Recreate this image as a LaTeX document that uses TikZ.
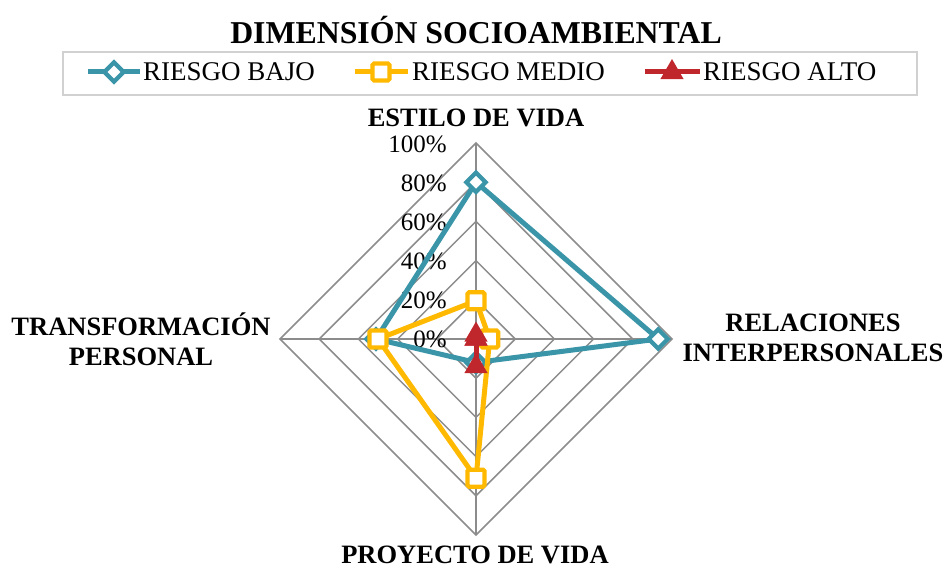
\documentclass[tikz,border=0pt]{standalone}
\usepackage{fontspec}
\setmainfont{Liberation Serif}
\usetikzlibrary{shapes.geometric,calc}
\definecolor{cteal}{HTML}{3A95A8}
\definecolor{cgold}{HTML}{FFB900}
\definecolor{cred}{HTML}{C0272D}
\definecolor{cgrid}{HTML}{8C8C8C}
\tikzset{
  gridline/.style={draw=cgrid, line width=1.5pt},
  tealline/.style={draw=cteal, line width=5pt, line join=round},
  goldline/.style={draw=cgold, line width=5pt, line join=round},
  redline/.style={draw=cred, line width=5pt, line join=round},
  tealmark/.style={diamond, draw=cteal, fill=white, line width=4.2pt, minimum size=21pt, inner sep=0pt},
  goldmark/.style={rectangle, draw=cgold, fill=white, line width=4.2pt, minimum size=17pt, inner sep=0pt, rounded corners=1.5pt},
  redmark/.style={regular polygon, regular polygon sides=3, fill=cred, minimum size=27pt, inner sep=0pt},
  axlabel/.style={font=\fontsize{25}{25}\selectfont, anchor=east, inner sep=0pt},
  catlabel/.style={font=\fontsize{26.5}{30}\selectfont\bfseries, align=center, inner sep=0pt},
  legtext/.style={font=\fontsize{27}{27}\selectfont, anchor=west, inner sep=0pt},
}
\begin{document}
\begin{tikzpicture}[x=1pt,y=-1pt]
\useasboundingbox (0,0) rectangle (943,569);
% title
\node[font=\fontsize{31.8}{31.8}\selectfont\bfseries, inner sep=0pt] (title) at (476,30) {DIMENSIÓN SOCIOAMBIENTAL};
% legend
\node[draw=black!18, line width=1.2pt, minimum width=854pt, minimum height=43pt, inner sep=0pt] (legend) at (490,73.5) {};
\coordinate (l1a) at (88,72); \coordinate (l1b) at (140,72);
\draw[tealline] (l1a) -- (l1b);
\node[tealmark] (lm1) at (114,72) {};
\node[legtext] (lt1) at (143,72) {RIESGO BAJO};
\coordinate (l2a) at (355,72); \coordinate (l2b) at (408,72);
\draw[goldline] (l2a) -- (l2b);
\node[goldmark] (lm2) at (381,72) {};
\node[legtext] (lt2) at (412,72) {RIESGO MEDIO};
\coordinate (l3a) at (645,72); \coordinate (l3b) at (700,72);
\draw[redline] (l3a) -- (l3b);
\node[redmark] (lm3) at (672,72.5) {};
\node[legtext] (lt3) at (703,72) {RIESGO ALTO};
% grid
\coordinate (C) at (476,339);
\foreach \r in {39.2,78.4,117.6,156.8,196} {
  \draw[gridline] ($(C)+(0,-\r)$) -- ($(C)+(\r,0)$) -- ($(C)+(0,\r)$) -- ($(C)+(-\r,0)$) -- cycle;
}
\coordinate (top) at (476,143);
\coordinate (rgt) at (672,339);
\coordinate (bot) at (476,535);
\coordinate (lft) at (280,339);
\draw[gridline] (C) -- (top); \draw[gridline] (C) -- (rgt);
\draw[gridline] (C) -- (bot); \draw[gridline] (C) -- (lft);
% axis labels
\node[axlabel] (a0) at (447,339) {0\%};
\node[axlabel] (a1) at (447,300) {20\%};
\node[axlabel] (a2) at (447,261) {40\%};
\node[axlabel] (a3) at (447,222) {60\%};
\node[axlabel] (a4) at (447,183) {80\%};
\node[axlabel] (a5) at (447,144) {100\%};
% category labels
\node[catlabel] (c1) at (476,118) {ESTILO DE VIDA};
\node[catlabel] (c2) at (813,338) {RELACIONES\\INTERPERSONALES};
\node[catlabel] (c3) at (141,339) {TRANSFORMACIÓN\\PERSONAL};
\node[catlabel] (c4) at (475,555) {PROYECTO DE VIDA};
% teal series
\coordinate (t1) at (476,182.2);
\coordinate (t2) at (658.3,339);
\coordinate (t3) at (476,362.5);
\coordinate (t4) at (376,339);
\draw[tealline] (t1) -- (t2) -- (t3) -- (t4) -- cycle;
\foreach \p in {t1,t2,t3,t4} \node[tealmark] at (\p) {};
% gold series
\coordinate (g1) at (476,300.8);
\coordinate (g2) at (489.7,339);
\coordinate (g3) at (476,478.2);
\coordinate (g4) at (378,339);
\draw[goldline] (g1) -- (g2) -- (g3) -- (g4) -- cycle;
\foreach \p in {g1,g2,g3,g4} \node[goldmark] at (\p) {};
% red series
\coordinate (r1) at (476,335);
\coordinate (r2) at (476,339);
\coordinate (r3) at (476,366.5);
\coordinate (r4) at (476,339);
\draw[redline] (r1) -- (r2) -- (r3) -- (r4) -- cycle;
\foreach \p in {r1,r2,r3,r4} \node[redmark] at (\p) {};
\end{tikzpicture}
\end{document}
